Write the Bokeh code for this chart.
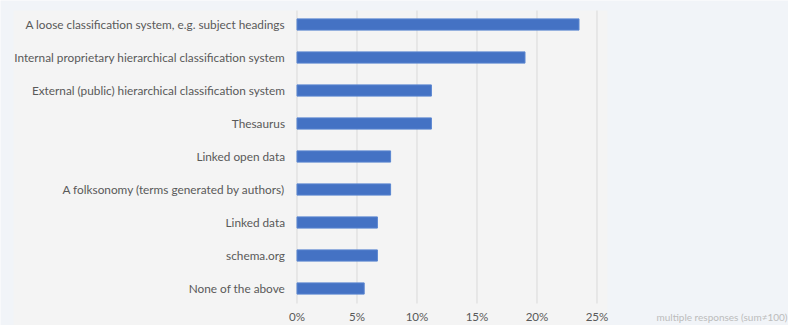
from bokeh.plotting import figure
from bokeh.models import Range1d, ColumnDataSource
from bokeh.core.properties import value
from bokeh.embed import file_html
from bokeh.resources import INLINE

categories = [
    "A loose classification system, e.g. subject headings",
    "Internal proprietary hierarchical classification system",
    "External (public) hierarchical classification system",
    "Thesaurus",
    "Linked open data",
    "A folksonomy (terms generated by authors)",
    "Linked data",
    "schema.org",
    "None of the above",
]
values = [23.5, 19.0, 11.2, 11.2, 7.8, 7.8, 6.7, 6.7, 5.6]
tick_values = [0, 5, 10, 15, 20, 25]
tick_labels = ["0%", "5%", "10%", "15%", "20%", "25%"]
note = "multiple responses (sum\u2260100)"

FONT = "Lato"
PANEL = "#f4f4f4"
OUTER = "#f1f4f8"
TEXT = "#595959"

W, H = 788, 325
PX_PER_UNIT = 12.0        # pixels per percent
ZERO_PX = 296.5           # x pixel of 0% inside the canvas
ROW_PX = 33.0             # pixels per category row
FIRST_PX = 24             # y pixel (from top) of first row center

x_start = -ZERO_PX / PX_PER_UNIT
x_end = x_start + W / PX_PER_UNIT
y_top = -FIRST_PX / ROW_PX
y_bottom = (H - FIRST_PX) / ROW_PX

def px_to_x(px):
    return x_start + px / PX_PER_UNIT

def py_to_y(py):
    return (py - FIRST_PX) / ROW_PX

p = figure(
    width=W, height=H,
    x_range=Range1d(x_start, x_end),
    y_range=Range1d(y_bottom, y_top),
    output_backend="svg", toolbar_location=None,
    x_axis_type=None, y_axis_type=None,
    min_border_left=0, min_border_right=0, min_border_top=0, min_border_bottom=0,
)
p.background_fill_color = OUTER
p.border_fill_color = OUTER
p.outline_line_color = None
p.grid.visible = False

# light gray panel
p.quad(left=[px_to_x(13)], right=[px_to_x(607)], top=[py_to_y(10)], bottom=[y_bottom],
       fill_color=PANEL, line_color=None)

# vertical grid lines
grid_top = py_to_y(10)
grid_bottom = py_to_y(303)
p.segment(x0=tick_values, x1=tick_values,
          y0=[grid_top] * len(tick_values), y1=[grid_bottom] * len(tick_values),
          line_color="#d9d9d9", line_width=1)

ypos = list(range(len(categories)))
src = ColumnDataSource(dict(cat=categories, val=values, y=ypos))

p.hbar(y="y", right="val", left=0, height=0.34, source=src,
       fill_color="#4472c4", line_color="#5a86d0", line_width=1)

# category labels
p.text(x=[-1.0] * len(categories), y=ypos, text=categories,
       text_align="right", text_baseline="middle",
       text_font=value(FONT), text_font_size="11.8px", text_color=TEXT)

# x tick labels
tick_y = py_to_y(316)
p.text(x=tick_values, y=[tick_y] * len(tick_values), text=tick_labels,
       text_align="center", text_baseline="middle",
       text_font=value(FONT), text_font_size="11.6px", text_color=TEXT)

# note
p.text(x=[px_to_x(787)], y=[tick_y], text=[note],
       text_align="right", text_baseline="middle",
       text_font=value(FONT), text_font_size="10px", text_color="#bcbcbc")

open("out.html", "w").write(file_html(p, INLINE))
